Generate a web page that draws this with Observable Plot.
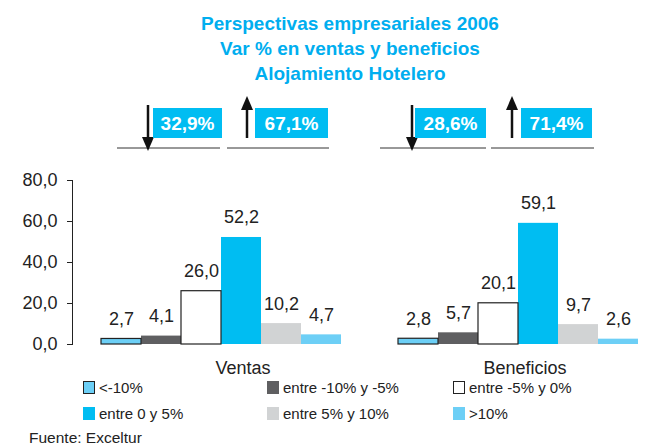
<!DOCTYPE html>
<html><head><meta charset="utf-8">
<script src="https://cdn.jsdelivr.net/npm/d3@7"></script>
<script src="https://cdn.jsdelivr.net/npm/@observablehq/plot@0.6"></script>
<style>
body{margin:0;overflow:hidden;background:#fff;font-family:"Liberation Sans",Arial,sans-serif;color:#222;}
#wrap{position:relative;width:650px;height:447px;overflow:hidden;}
#title{position:absolute;left:0;top:11px;width:700px;text-align:center;color:#00AEEF;font-weight:bold;font-size:19px;line-height:25px;z-index:2;}
#chart{position:absolute;left:0;top:82px;}
.leg{position:absolute;font-size:15px;line-height:15px;white-space:nowrap;}
.sw{position:absolute;width:12px;height:13px;box-sizing:border-box;}
#src{position:absolute;left:29px;top:429px;font-size:15.5px;white-space:nowrap;}
</style></head><body>
<div id="wrap"><div id="title"></div><div id="chart"></div><div id="legend"></div><div id="src"></div></div>
<script>
// ---- data ----
const titleLines = ["Perspectivas empresariales 2006", "Var % en ventas y beneficios", "Alojamiento Hotelero"];
const groups = ["Ventas", "Beneficios"];
const series = ["<-10%", "entre -10% y -5%", "entre -5% y 0%", "entre 0 y 5%", "entre 5% y 10%", ">10%"];
const ventas = [2.7, 4.1, 26.0, 52.2, 10.2, 4.7];
const beneficios = [2.8, 5.7, 20.1, 59.1, 9.7, 2.6];
const yTicks = [0, 20, 40, 60, 80];
const shareDown = [32.9, 28.6];
const shareUp = [67.1, 71.4];
const source = "Fuente: Exceltur";
const colors = ["#6CCFF6", "#5F5F61", "#FFFFFF", "#00BDF2", "#D1D3D4", "#6DCFF6"];
const outlined = ["<-10%", "entre -5% y 0%"];

const fmt = v => v.toFixed(1).replace(".", ",");
const fmtPct = v => v.toFixed(1).replace(".", ",") + "%";

const rows = groups.flatMap((g, gi) => series.map((s, i) => ({group: g, series: s, value: (gi ? beneficios : ventas)[i]})));

document.getElementById("title").innerHTML = titleLines.map(t => `<div>${t}</div>`).join("");

const chart = Plot.plot({
  width: 666, height: 296,
  marginTop: 98, marginBottom: 34, marginLeft: 72, marginRight: 0,
  style: {fontFamily: "Liberation Sans, Arial, sans-serif", fontSize: "18px", color: "#222", background: "transparent", maxWidth: "none", overflow: "visible"},
  fx: {domain: groups, padding: 0, axis: null, label: null},
  x: {domain: series, paddingInner: 0, paddingOuter: 0.68, axis: null},
  y: {domain: [0, 80], ticks: yTicks, tickSize: 5, tickPadding: 10, tickFormat: fmt, label: null, line: true},
  color: {domain: series, range: colors},
  marks: [
    Plot.barY(rows, {fx: "group", x: "series", y: "value", fill: "series"}),
    Plot.barY(rows.filter(d => outlined.includes(d.series)), {fx: "group", x: "series", y: "value", fill: "none", stroke: "#222", strokeWidth: 1.2}),
    Plot.text(rows, {fx: "group", x: "series", y: "value", text: d => fmt(d.value), lineAnchor: "bottom", dy: -14, fill: "#222"}),
    Plot.text([groups[0]], {fx: d => d, text: d => d, frameAnchor: "bottom", lineAnchor: "bottom", dy: 29, dx: 22, fill: "#222"}),
    Plot.text([groups[1]], {fx: d => d, text: d => d, frameAnchor: "bottom", lineAnchor: "bottom", dy: 29, dx: 7, fill: "#222"})
  ]
});
document.getElementById("chart").appendChild(chart);

// ---- annotation arrows & share boxes (layout) ----
const annLayout = [
  {lines: [[117, 220], [227, 329]], downX: 148, downBox: [153, 222], upX: 247, upBox: [255, 328]},
  {lines: [[380, 486], [491, 594]], downX: 412, downBox: [415, 486], upX: 512, upBox: [521, 592]}
];
const svg = d3.select(chart.tagName.toLowerCase() === "svg" ? chart : chart.querySelector("svg"));
const g = svg.append("g");
annLayout.forEach((a, i) => {
  a.lines.forEach(([x1, x2]) => g.append("line").attr("x1", x1).attr("x2", x2).attr("y1", 66).attr("y2", 66).attr("stroke", "#333").attr("stroke-width", 1));
  // down arrow
  g.append("line").attr("x1", a.downX).attr("x2", a.downX).attr("y1", 23).attr("y2", 58).attr("stroke", "#111").attr("stroke-width", 2.5);
  g.append("path").attr("d", `M${a.downX - 6},55 L${a.downX + 6},55 L${a.downX},69 Z`).attr("fill", "#111");
  // up arrow
  g.append("line").attr("x1", a.upX).attr("x2", a.upX).attr("y1", 25).attr("y2", 56).attr("stroke", "#111").attr("stroke-width", 2.5);
  g.append("path").attr("d", `M${a.upX - 6},28 L${a.upX + 6},28 L${a.upX},14 Z`).attr("fill", "#111");
  // boxes
  [[a.downBox, shareDown[i]], [a.upBox, shareUp[i]]].forEach(([[x1, x2], v]) => {
    g.append("rect").attr("x", x1).attr("y", 26).attr("width", x2 - x1).attr("height", 30).attr("fill", "#00BDF2");
    g.append("text").attr("x", (x1 + x2) / 2).attr("y", 47.5).attr("text-anchor", "middle")
      .attr("fill", "#fff").attr("font-weight", "bold").attr("font-size", "19px").text(fmtPct(v));
  });
});

// ---- legend ----
const legPos = [[83, 381], [267, 381], [453, 381], [83, 407], [267, 407], [453, 407]];
const leg = document.getElementById("legend");
series.forEach((s, i) => {
  const [x, y] = legPos[i];
  const sw = document.createElement("div");
  sw.className = "sw";
  sw.style.left = x + "px"; sw.style.top = y + "px";
  sw.style.background = colors[i];
  if (outlined.includes(s)) sw.style.border = "1px solid #222";
  leg.appendChild(sw);
  const t = document.createElement("div");
  t.className = "leg";
  t.style.left = (x + 16) + "px"; t.style.top = (y - 1) + "px";
  t.textContent = s;
  leg.appendChild(t);
});
document.getElementById("src").textContent = source;
</script>
</body></html>
